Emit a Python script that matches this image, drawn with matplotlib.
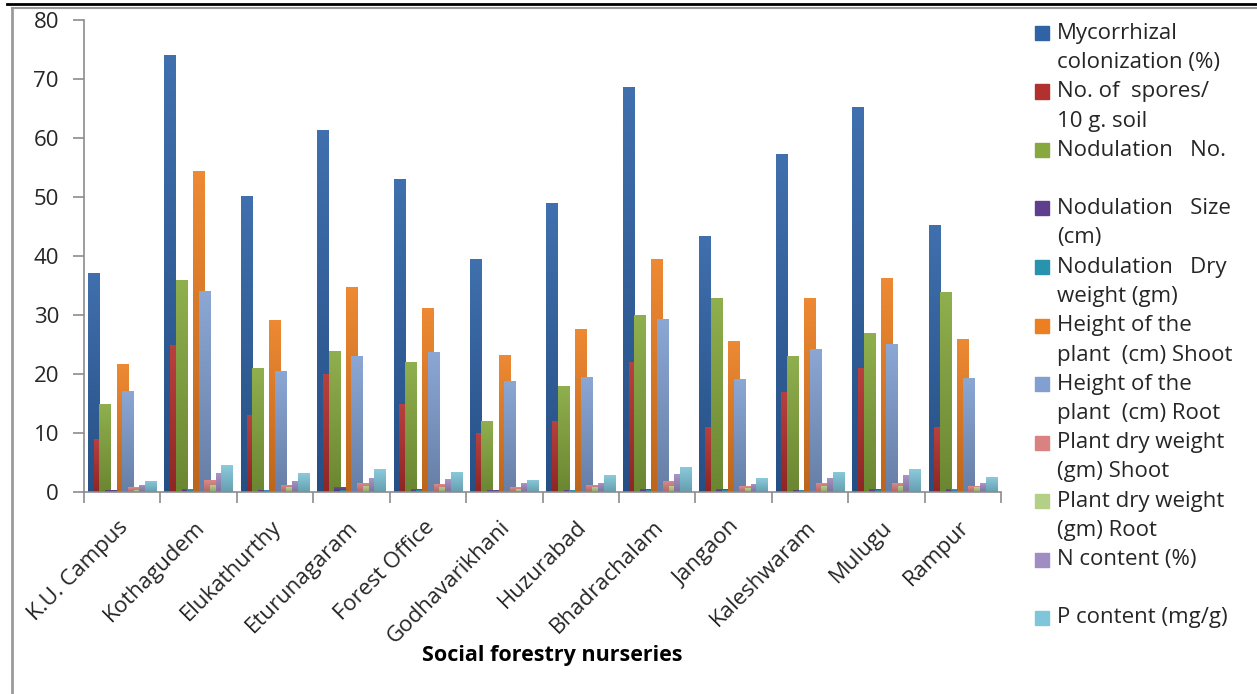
import matplotlib
matplotlib.use('Agg')
import matplotlib.pyplot as plt
import matplotlib.transforms as mtransforms
import numpy as np
from matplotlib.colors import LinearSegmentedColormap, to_rgb
from matplotlib.patches import Rectangle
from matplotlib.lines import Line2D

plt.rcParams['font.family'] = ['Open Sans', 'DejaVu Sans']

nurseries = ['K.U. Campus', 'Kothagudem', 'Elukathurthy', 'Eturunagaram',
             'Forest Office', 'Godhavarikhani', 'Huzurabad', 'Bhadrachalam',
             'Jangaon', 'Kaleshwaram', 'Mulugu', 'Rampur']

colonization = [37.2, 74.2, 50.2, 61.5, 53.1, 39.5, 49.0, 68.7, 43.5, 57.4, 65.3, 45.3]
spores       = [9, 25, 13, 20, 15, 10, 12, 22, 11, 17, 21, 11]
nod_number   = [15, 36, 21, 24, 22, 12, 18, 30, 33, 23, 27, 34]
nod_size     = [0.4, 0.5, 0.4, 0.8, 0.5, 0.3, 0.4, 0.5, 0.5, 0.4, 0.5, 0.5]
nod_dry      = [0.2, 0.5, 0.3, 0.4, 0.4, 0.2, 0.3, 0.4, 0.4, 0.3, 0.4, 0.5]
shoot_height = [21.7, 54.4, 29.2, 34.8, 31.2, 23.2, 27.6, 39.5, 25.6, 33.0, 36.3, 26.0]
root_height  = [17.1, 34.1, 20.5, 23.0, 23.7, 18.8, 19.5, 29.3, 19.1, 24.3, 25.1, 19.3]
shoot_dry    = [0.8, 2.1, 1.2, 1.6, 1.4, 0.8, 1.2, 1.9, 1.0, 1.6, 1.6, 1.0]
root_dry     = [0.3, 1.2, 0.8, 1.1, 0.85, 0.5, 0.85, 1.0, 0.6, 1.1, 1.1, 0.8]
n_content    = [1.2, 3.2, 1.9, 2.3, 2.15, 1.5, 1.6, 3.0, 1.4, 2.4, 2.8, 1.5]
p_content    = [1.9, 4.5, 3.2, 3.85, 3.4, 2.1, 2.8, 4.25, 2.3, 3.4, 3.85, 2.5]

series = [colonization, spores, nod_number, nod_size, nod_dry, shoot_height,
          root_height, shoot_dry, root_dry, n_content, p_content]

labels = ['Mycorrhizal\ncolonization (%)',
          'No. of  spores/\n10 g. soil',
          'Nodulation   No.\n',
          'Nodulation   Size\n(cm)',
          'Nodulation   Dry\nweight (gm)',
          'Height of the\nplant  (cm) Shoot',
          'Height of the\nplant  (cm) Root',
          'Plant dry weight\n(gm) Shoot',
          'Plant dry weight\n(gm) Root',
          'N content (%)\n',
          'P content (mg/g)']

colors = ['#2f63a6', '#b2302e', '#86a83e', '#5e3f8e', '#2793ad', '#ec7f22',
          '#819fd0', '#da8280', '#b4cf86', '#a08dc2', '#80c6da']


def bar_cmap(col):
    # darker at the foot of the bar, a little lighter at the top
    c = np.array(to_rgb(col))
    bottom = c * 0.80
    top = c + (1 - c) * 0.08
    return LinearSegmentedColormap.from_list('g', [bottom, top])


W, H = 1257, 694
fig = plt.figure(figsize=(W / 100, H / 100), dpi=100)
ax = fig.add_axes([84 / W, 1 - 492 / H, (1001 - 84) / W, (492 - 20.5) / H])

# Excel-style overlapping clustered bars: each series shifted by one step,
# bars twice as wide as the step, later series drawn on top
step = 0.0747
width = 2 * step
x = np.arange(len(nurseries))
grad = np.linspace(0, 1, 64).reshape(-1, 1)
for i, (vals, col) in enumerate(zip(series, colors)):
    bars = ax.bar(x + (i - 5) * step, vals, width=width, color=col,
                  edgecolor='none', zorder=2 + i)
    cmap = bar_cmap(col)
    for b in bars:
        bx, by = b.get_x(), b.get_y()
        bw, bh = b.get_width(), b.get_height()
        im = ax.imshow(grad, extent=[bx, bx + bw, by, by + bh], origin='lower',
                       aspect='auto', cmap=cmap, interpolation='bilinear',
                       zorder=2 + i + 0.5)
        im.set_clip_path(b)

ax.set_xlim(-0.5, len(nurseries) - 0.5)
ax.set_ylim(0, 80)
ax.set_yticks(range(0, 81, 10))

spine_col = '#8c8c8c'
text_col = '#262626'
for side in ['top', 'right']:
    ax.spines[side].set_visible(False)
for side in ['left', 'bottom']:
    ax.spines[side].set_color(spine_col)
    ax.spines[side].set_linewidth(1.2)
    ax.spines[side].set_zorder(20)

ax.tick_params(axis='y', direction='out', length=8, width=1.2, color=spine_col,
               labelsize=16, labelcolor=text_col, pad=10)
ax.set_xticks(x)
ax.set_xticklabels(nurseries, rotation=45, ha='right', va='center',
                   rotation_mode='anchor', fontsize=16, color=text_col)
ax.tick_params(axis='x', which='major', length=0, pad=23)
shift = mtransforms.ScaledTranslation(3 / 100, 0, fig.dpi_scale_trans)
for lbl in ax.get_xticklabels():
    lbl.set_transform(lbl.get_transform() + shift)
ax.set_xticks(np.arange(-0.5, len(nurseries)), minor=True)
ax.tick_params(axis='x', which='minor', direction='out', length=8, width=1.2,
               color=spine_col)

fig.text(552 / W, 1 - 655 / H, 'Social forestry nurseries', ha='center',
         va='center', fontsize=15.5, fontweight='bold', color='black')

# legend, square aligned with the first line of each label
for k, (lab, col) in enumerate(zip(labels, colors)):
    y0 = 33 + k * 58.5
    fig.patches.append(Rectangle((1035 / W, 1 - (y0 + 7) / H), 14 / W, 14 / H,
                                 transform=fig.transFigure, color=col))
    for j, line in enumerate(lab.split('\n')):
        fig.text(1057 / W, 1 - (y0 + j * 29.5) / H, line, ha='left',
                 va='center', fontsize=16, color=text_col)

# chart frame and page rule above it
fig.add_artist(Line2D([12 / W, 12 / W], [0, 1 - 8 / H], transform=fig.transFigure,
                      color='#9a9a9a', lw=2))
fig.add_artist(Line2D([12 / W, 1], [1 - 8 / H, 1 - 8 / H], transform=fig.transFigure,
                      color='#9a9a9a', lw=1.5))
fig.add_artist(Line2D([7 / W, 1], [1 - 4 / H, 1 - 4 / H], transform=fig.transFigure,
                      color='black', lw=2))

fig.savefig('out.png', dpi=100)
